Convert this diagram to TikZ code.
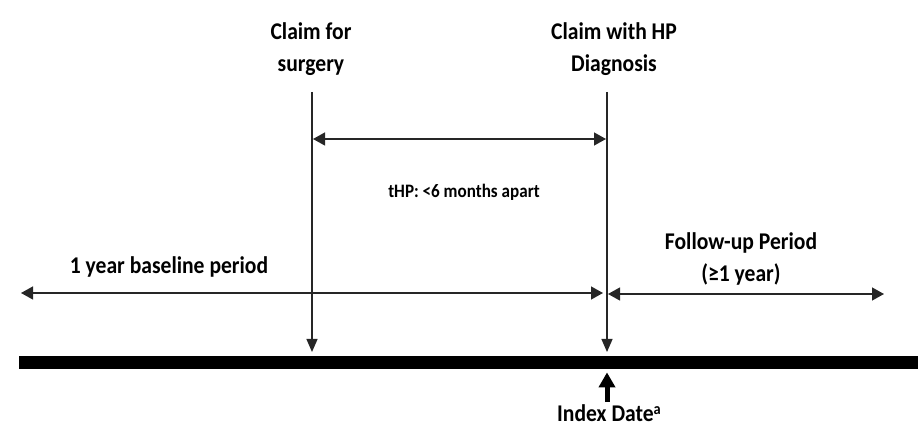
\documentclass[tikz,border=0pt]{standalone}
\usepackage{fontspec}
\setmainfont{Carlito}[FakeStretch=0.9]
\usetikzlibrary{arrows.meta}
\tikzset{
  lbl/.style={font=\bfseries\fontsize{24}{32}\selectfont, align=center, inner sep=0pt},
  small/.style={font=\bfseries\fontsize{19}{22}\selectfont, inner sep=0pt},
  thin/.style={line width=1.3pt, draw=black!85},
  downarr/.style={thin, -{Triangle[length=13pt,width=11pt]}},
  twoarr/.style={thin, {Triangle[length=12pt,width=13pt]}-{Triangle[length=12pt,width=13pt]}},
  idxarr/.style={line width=5pt, -{Triangle[length=15pt,width=16pt]}}
}
\begin{document}
\begin{tikzpicture}[x=1pt,y=-1pt]
\useasboundingbox (0,0) rectangle (918,427);
% labels
\node[lbl] (claimS) at (311,49) {Claim for\\surgery};
\node[lbl] (claimHP) at (614,49) {Claim with HP\\Diagnosis};
\node[small] (thp) at (464,192) {tHP: <6 months apart};
\node[lbl] (base) at (169,267) {1 year baseline period};
\node[lbl] (follow) at (741,259) {Follow-up Period\\(≥1 year)};
% timeline bar
\node[fill=black, minimum width=899pt, minimum height=13pt, inner sep=0pt, anchor=north west] (bar) at (19,356) {};
% coordinates
\coordinate (sTop) at (312,92);
\coordinate (hTop) at (607,92);
\coordinate (thpL) at (313,139);
\coordinate (thpR) at (606,139);
\coordinate (baseL) at (21,293);
\coordinate (baseR) at (603,293);
\coordinate (folL) at (608,294);
\coordinate (folR) at (884,294);
\coordinate (idxBot) at (607,402);
% vertical arrows
\draw[downarr, shorten >=4pt] (sTop) -- (sTop |- bar.north);
\draw[downarr, shorten >=4pt] (hTop) -- (hTop |- bar.north);
% horizontal arrows
\draw[twoarr] (thpL) -- (thpR);
\draw[twoarr] (baseL) -- (baseR);
\draw[twoarr] (folL) -- (folR);
% index date
\draw[idxarr, shorten >=3pt] (idxBot) -- (idxBot |- bar.south);
\node[lbl] (idx) at (609,413) {Index Date\raisebox{7pt}{\fontsize{16}{16}\selectfont a}};
\end{tikzpicture}
\end{document}
